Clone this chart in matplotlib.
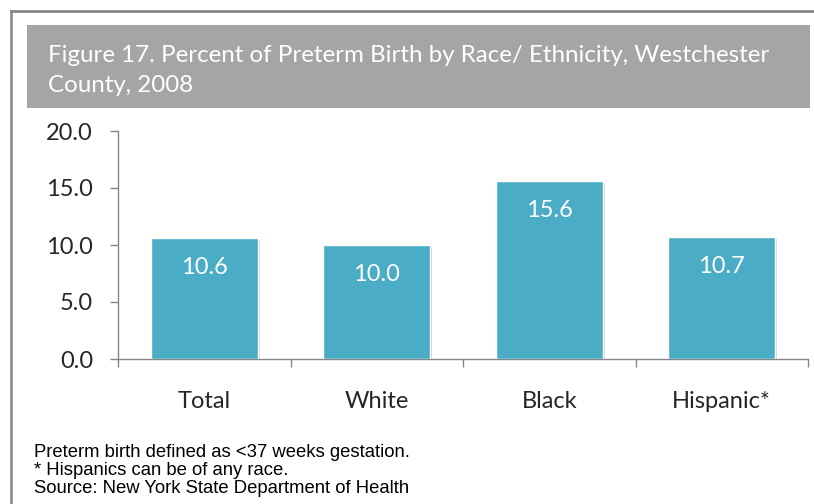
import matplotlib
matplotlib.use("Agg")
import matplotlib.pyplot as plt
from matplotlib.patches import Rectangle
from matplotlib.lines import Line2D
import matplotlib.patheffects as pe

categories = ["Total", "White", "Black", "Hispanic*"]
values = [10.6, 10.0, 15.6, 10.7]
value_labels = ["10.6", "10.0", "15.6", "10.7"]
yticks = [0.0, 5.0, 10.0, 15.0, 20.0]
ytick_labels = ["0.0", "5.0", "10.0", "15.0", "20.0"]
title_lines = ["Figure 17. Percent of Preterm Birth by Race/ Ethnicity, Westchester",
               "County, 2008"]
notes = ["Preterm birth defined as <37 weeks gestation.",
         "* Hispanics can be of any race.",
         "Source: New York State Department of Health"]

W, H = 814, 504
fig = plt.figure(figsize=(W / 100, H / 100), dpi=100)
fig.patch.set_facecolor("white")

def fx(px):
    return px / W

def fy(py):
    return 1 - py / H

# Outer border (top and left visible)
fig.add_artist(Line2D([fx(11), 1.0], [fy(11), fy(11)], color="#858585", lw=2.0,
                      transform=fig.transFigure))
fig.add_artist(Line2D([fx(11), fx(11)], [fy(11), 0.0], color="#858585", lw=1.8,
                      transform=fig.transFigure))

# Title band
fig.add_artist(Rectangle((fx(27), fy(108)), fx(810) - fx(27), fy(25) - fy(108),
                         transform=fig.transFigure, facecolor="#A5A5A5",
                         edgecolor="none"))
fig.text(fx(48), fy(62), title_lines[0], color="white", fontsize=17.4,
         family="Lato", va="baseline", ha="left")
fig.text(fx(48), fy(92), title_lines[1], color="white", fontsize=17.4,
         family="Lato", va="baseline", ha="left")

# Axes
ax = fig.add_axes([fx(118), fy(359), fx(808) - fx(118), fy(131) - fy(359)])
x = list(range(len(categories)))
bars = ax.bar(x, values, width=0.62, color="#4BACC6", edgecolor="white",
              linewidth=1.0, zorder=3)
for b in bars:
    b.set_path_effects([pe.SimplePatchShadow(offset=(1.5, -1.5),
                                             shadow_rgbFace="#000000", alpha=0.18),
                        pe.Normal()])
for xi, v, lab in zip(x, values, value_labels):
    ax.annotate(lab, (xi, v), xytext=(0, -21), textcoords="offset points",
                ha="center", va="center", color="white", fontsize=17,
                family="Lato", zorder=4)

ax.set_xlim(-0.5, len(categories) - 0.5)
ax.set_ylim(0, 20)
ax.set_yticks(yticks)
ax.set_yticklabels(ytick_labels, family="Lato", fontsize=17, color="#262626")
ax.set_xticks(x)
ax.set_xticklabels(categories, family="Lato", fontsize=17, color="#262626")
ax.set_xticks([i - 0.5 for i in range(len(categories) + 1)], minor=True)
ax.tick_params(axis="x", which="major", length=0, pad=23)
ax.tick_params(axis="x", which="minor", length=6, width=1, color="#868686",
               direction="out")
ax.tick_params(axis="y", length=6, width=1, color="#868686", pad=12)
for s in ["top", "right"]:
    ax.spines[s].set_visible(False)
for s in ["left", "bottom"]:
    ax.spines[s].set_color("#868686")
    ax.spines[s].set_linewidth(1.0)

# Footnotes
for i, n in enumerate(notes):
    fig.text(fx(34), fy(457 + 18 * i), n, family="Liberation Sans", fontsize=13.3,
             color="black", va="baseline", ha="left")

fig.savefig("out.png", dpi=100, facecolor="white")
